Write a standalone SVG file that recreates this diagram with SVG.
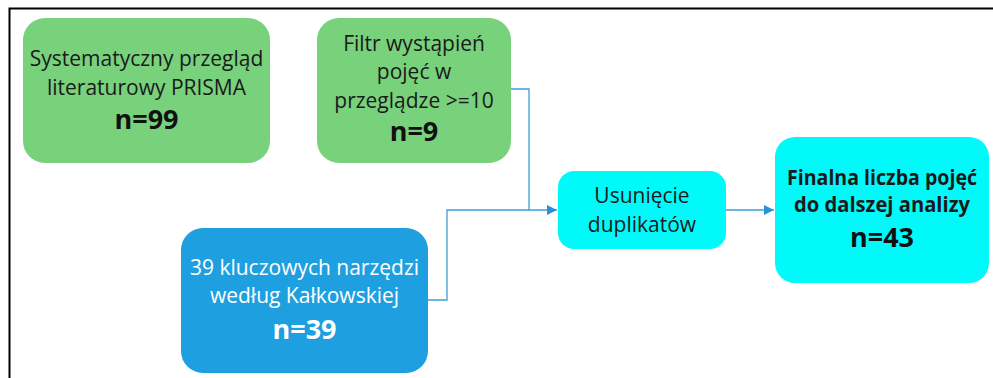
<svg xmlns="http://www.w3.org/2000/svg" width="993" height="378" viewBox="0 0 993 378">
  <style>
    .t { font-family: "Open Sans", "Liberation Sans", sans-serif; font-size: 21px; text-anchor: middle; fill: #1a1a1a; }
    .n { font-family: "Open Sans", "Liberation Sans", sans-serif; font-size: 27px; font-weight: bold; text-anchor: middle; fill: #111; }
    .b { font-weight: bold; }
    .w { fill: #ffffff; }
    .green { fill: #78D17B; }
    .blue { fill: #1E9FDF; }
    .cyan { fill: #00FAFA; }
    .conn { fill: none; stroke: #3A9FDB; stroke-width: 1.3; }
  </style>
  <defs>
    <marker id="arrow" viewBox="0 0 10 10" refX="10" refY="5" markerWidth="10" markerHeight="10" markerUnits="userSpaceOnUse" orient="auto">
      <path d="M0,0 L10,5 L0,10 z" fill="#2A92D4"/>
    </marker>
  </defs>
  <rect width="993" height="378" fill="#ffffff"/>
  <!-- frame -->
  <path d="M9.5,378 V8.5 H993" fill="none" stroke="#000" stroke-width="2"/>

  <g id="connectors">
    <path class="conn" d="M511,89 H529 V210"/>
    <path class="conn" d="M428,300 H447 V210 H557" marker-end="url(#arrow)"/>
    <path class="conn" d="M726,210 H774" marker-end="url(#arrow)"/>
  </g>

  <g id="prisma">
    <rect class="green" x="23" y="18" width="247" height="145" rx="22"/>
    <text class="t" x="146.5" y="66">Systematyczny przegląd</text>
    <text class="t" x="146.5" y="95">literaturowy PRISMA</text>
    <text class="n" x="146.5" y="129">n=99</text>
  </g>

  <g id="filtr">
    <rect class="green" x="317" y="18" width="194" height="145" rx="22"/>
    <text class="t" x="414" y="51">Filtr wystąpień</text>
    <text class="t" x="414" y="79">pojęć w</text>
    <text class="t" x="414" y="108">przeglądze &gt;=10</text>
    <text class="n" x="414" y="141">n=9</text>
  </g>

  <g id="narzedzia">
    <rect class="blue" x="181" y="228" width="247" height="145" rx="22"/>
    <text class="t w" x="304.5" y="275">39 kluczowych narzędzi</text>
    <text class="t w" x="304.5" y="303">według Kałkowskiej</text>
    <text class="n w" x="304.5" y="339">n=39</text>
  </g>

  <g id="duplikaty">
    <rect class="cyan" x="558" y="171" width="168" height="78" rx="16"/>
    <text class="t" x="642" y="203">Usunięcie</text>
    <text class="t" x="642" y="232">duplikatów</text>
  </g>

  <g id="finalna">
    <rect class="cyan" x="775" y="137" width="214" height="146" rx="20"/>
    <text class="t b" x="882" y="185" textLength="190" lengthAdjust="spacingAndGlyphs">Finalna liczba pojęć</text>
    <text class="t b" x="882" y="212" textLength="176" lengthAdjust="spacingAndGlyphs">do dalszej analizy</text>
    <text class="n" x="882" y="247">n=43</text>
  </g>
</svg>
